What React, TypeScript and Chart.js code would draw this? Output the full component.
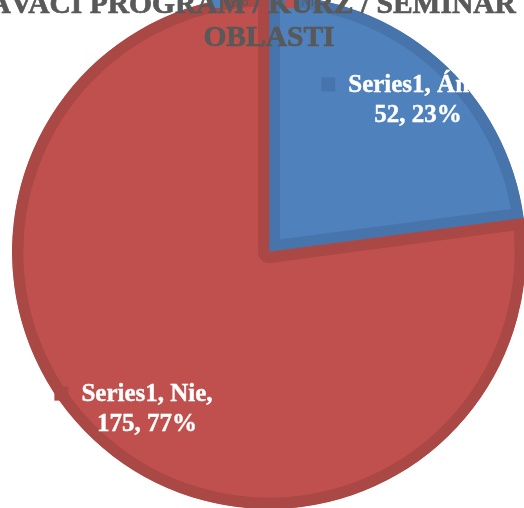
import { useEffect, useRef } from "react";
import { Chart, registerables } from "chart.js";

Chart.register(...registerables);

// Survey answers
const seriesName = "Series1";
const categories = ["Áno", "Nie"];
const values = [52, 175];

const titleLines = ["VZDELÁVACÍ PROGRAM / KURZ / SEMINÁR V DANEJ", "OBLASTI"];

const fillColors = ["#4F81BD", "#C0504D"];
const edgeColors = ["#4874AC", "#AA4845"];

const SERIF = '"Liberation Serif", "DejaVu Serif", serif';

// White value labels with a small colour key, placed along each slice's mid-angle
const sliceLabels = {
  id: "sliceLabels",
  afterDatasetsDraw(chart: any, _args: any, opts: any) {
    const ctx: CanvasRenderingContext2D = chart.ctx;
    const meta = chart.getDatasetMeta(0);
    const total = values.reduce((a, b) => a + b, 0);
    meta.data.forEach((arc: any, i: number) => {
      const { x, y, startAngle, endAngle, outerRadius } = arc.getProps(
        ["x", "y", "startAngle", "endAngle", "outerRadius"],
        true
      );
      const mid = (startAngle + endAngle) / 2;
      const r = outerRadius * opts.radial;
      const cx = x + Math.cos(mid) * r;
      const cy = y + Math.sin(mid) * r + opts.yOffset;
      const pct = Math.round((values[i] / total) * 100);
      const lines = [`${seriesName}, ${categories[i]},`, `${values[i]}, ${pct}%`];

      ctx.save();
      ctx.beginPath();
      ctx.rect(0, 0, opts.clipRight, chart.height);
      ctx.clip();
      ctx.font = opts.font;
      const w = Math.max(...lines.map((l) => ctx.measureText(l).width));
      const key = 14;
      const gap = 13;
      const left = cx - (key + gap + w) / 2;
      const textX = left + key + gap + w / 2;
      const lh = opts.lineHeight;
      const top = cy - (lh * lines.length) / 2;

      ctx.fillStyle = edgeColors[i];
      ctx.fillRect(left, top + lh / 2 - key / 2 - 1, key, key);

      ctx.fillStyle = "#FFFFFF";
      ctx.strokeStyle = "#FFFFFF";
      ctx.lineWidth = 0.4;
      ctx.textAlign = "center";
      ctx.textBaseline = "middle";
      lines.forEach((l, k) => {
        const ty = top + lh * (k + 0.5);
        ctx.fillText(l, textX, ty);
        ctx.strokeText(l, textX, ty);
      });
      ctx.restore();
    });
  },
};

// Legend along the top edge, with the two-line title drawn over it
const headerPlugin = {
  id: "header",
  afterDraw(chart: any) {
    const ctx: CanvasRenderingContext2D = chart.ctx;
    ctx.save();
    ctx.font = `13px ${SERIF}`;
    ctx.textBaseline = "middle";
    ctx.textAlign = "left";
    const legendX = [210, 285];
    categories.forEach((c, i) => {
      ctx.fillStyle = fillColors[i];
      ctx.fillRect(legendX[i], -4, 12, 12);
      ctx.fillStyle = "#595959";
      ctx.fillText(c, legendX[i] + 16, 3);
    });

    ctx.font = `bold 29.5px ${SERIF}`;
    ctx.fillStyle = "#595959";
    ctx.strokeStyle = "#595959";
    ctx.lineWidth = 0.7;
    ctx.textAlign = "center";
    ctx.textBaseline = "alphabetic";
    titleLines.forEach((t, k) => {
      ctx.fillText(t, 269, 13 + k * 33);
      ctx.strokeText(t, 269, 13 + k * 33);
    });
    ctx.restore();
  },
};

export default function App() {
  const canvasRef = useRef<HTMLCanvasElement | null>(null);

  useEffect(() => {
    if (!canvasRef.current) return;
    const chart = new Chart(canvasRef.current, {
      type: "pie",
      data: {
        labels: categories,
        datasets: [
          {
            label: seriesName,
            data: values,
            backgroundColor: fillColors,
            borderColor: edgeColors,
            borderWidth: 11,
            borderAlign: "inner",
            radius: 257,
            clip: false,
          } as any,
        ],
      },
      options: {
        responsive: false,
        animation: false,
        devicePixelRatio: 1,
        layout: { padding: { left: 14, right: 0, top: 0, bottom: 4 } },
        plugins: {
          legend: { display: false },
          title: { display: false },
          tooltip: { enabled: false },
          sliceLabels: {
            radial: 0.8,
            yOffset: 3,
            font: `bold 25px ${SERIF}`,
            lineHeight: 30,
            clipRight: 474,
          },
        } as any,
      },
      plugins: [sliceLabels, headerPlugin],
    });
    return () => chart.destroy();
  }, []);

  return (
    <div
      style={{
        position: "fixed",
        left: 0,
        top: 0,
        width: 524,
        height: 508,
        overflow: "hidden",
        background: "#FFFFFF",
      }}
    >
      <canvas ref={canvasRef} width={524} height={508} />
    </div>
  );
}
